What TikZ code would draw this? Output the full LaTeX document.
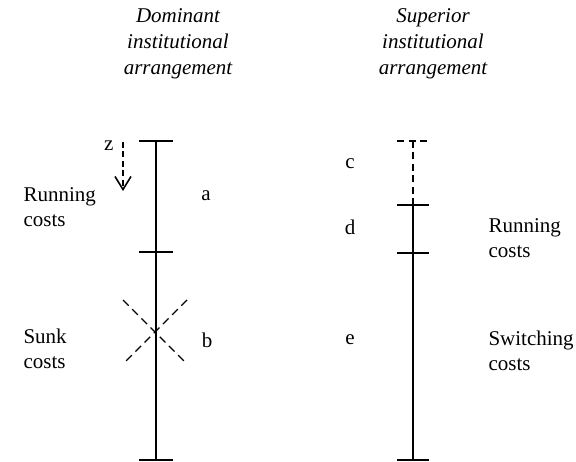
\documentclass[tikz,border=0pt]{standalone}
\usepackage{fontspec}
\setmainfont{Liberation Serif}
\usetikzlibrary{arrows.meta}

\begin{document}
\begin{tikzpicture}[x=1pt, y=-1pt,
    axis/.style={line width=2pt},
    dashline/.style={line width=1.7pt, dash pattern=on 7pt off 4.5pt},
    every node/.style={font=\fontsize{21}{25}\selectfont}]
    \useasboundingbox (0,0) rectangle (576,462);

    % Ueberschriften
    \node[align=center, font=\itshape\fontsize{21}{26}\selectfont] (dom) at (178,44) {Dominant\\institutional\\arrangement};
    \node[align=center, font=\itshape\fontsize{21}{26}\selectfont] (sup) at (433,44) {Superior\\institutional\\arrangement};

    % Linke Achse
    \coordinate (lt) at (156,141);
    \coordinate (lm) at (156,252);
    \coordinate (lb) at (156,460);
    \draw[axis] (lt) -- (lb);
    \draw[axis] ([xshift=-17pt]lt) -- ([xshift=17pt]lt);
    \draw[axis] ([xshift=-17pt]lm) -- ([xshift=17pt]lm);
    \draw[axis] ([xshift=-17pt]lb) -- ([xshift=17pt]lb);

    % Kreuz
    \coordinate (kx) at (155,332);
    \draw[dashline, line width=1.4pt, dash pattern=on 8pt off 5pt] ([shift={(-32,-32)}]kx) -- ([shift={(32,32)}]kx);
    \draw[dashline, line width=1.4pt, dash pattern=on 8pt off 5pt] ([shift={(32,-32)}]kx) -- ([shift={(-32,32)}]kx);

    % Pfeil z
    \coordinate (zt) at (123,142);
    \coordinate (zb) at (123,191);
    \draw[-{Straight Barb[length=13pt,width=16pt,line width=1.6pt]}, dashline, line width=1.6pt, dash pattern=on 6pt off 3.5pt] (zt) -- (zb);
    \node[anchor=east] (z) at (117,146) {z};

    % Rechte Achse
    \coordinate (rt) at (413,141);
    \coordinate (rm) at (413,205);
    \coordinate (rn) at (413,253);
    \coordinate (rb) at (413,460);
    \draw[dashline] (rt) -- (rm);
    \draw[dashline] ([xshift=-16pt]rt) -- ([xshift=16pt]rt);
    \draw[axis] (rm) -- (rb);
    \draw[axis] ([xshift=-16pt]rm) -- ([xshift=16pt]rm);
    \draw[axis] ([xshift=-16pt]rn) -- ([xshift=16pt]rn);
    \draw[axis] ([xshift=-16pt]rb) -- ([xshift=16pt]rb);

    % Beschriftungen links
    \node[anchor=west, align=left] (run) at (20,207) {Running\\costs};
    \node[anchor=west, align=left] (sunk) at (20,349) {Sunk\\costs};
    \node (a) at (206,196) {a};
    \node (b) at (207,340) {b};

    % Beschriftungen rechts
    \node (c) at (350,164) {c};
    \node (d) at (350,227) {d};
    \node (e) at (350,340) {e};
    \node[anchor=west, align=left] (run2) at (485,238) {Running\\costs};
    \node[anchor=west, align=left] (swi) at (485,351) {Switching\\costs};
\end{tikzpicture}
\end{document}
